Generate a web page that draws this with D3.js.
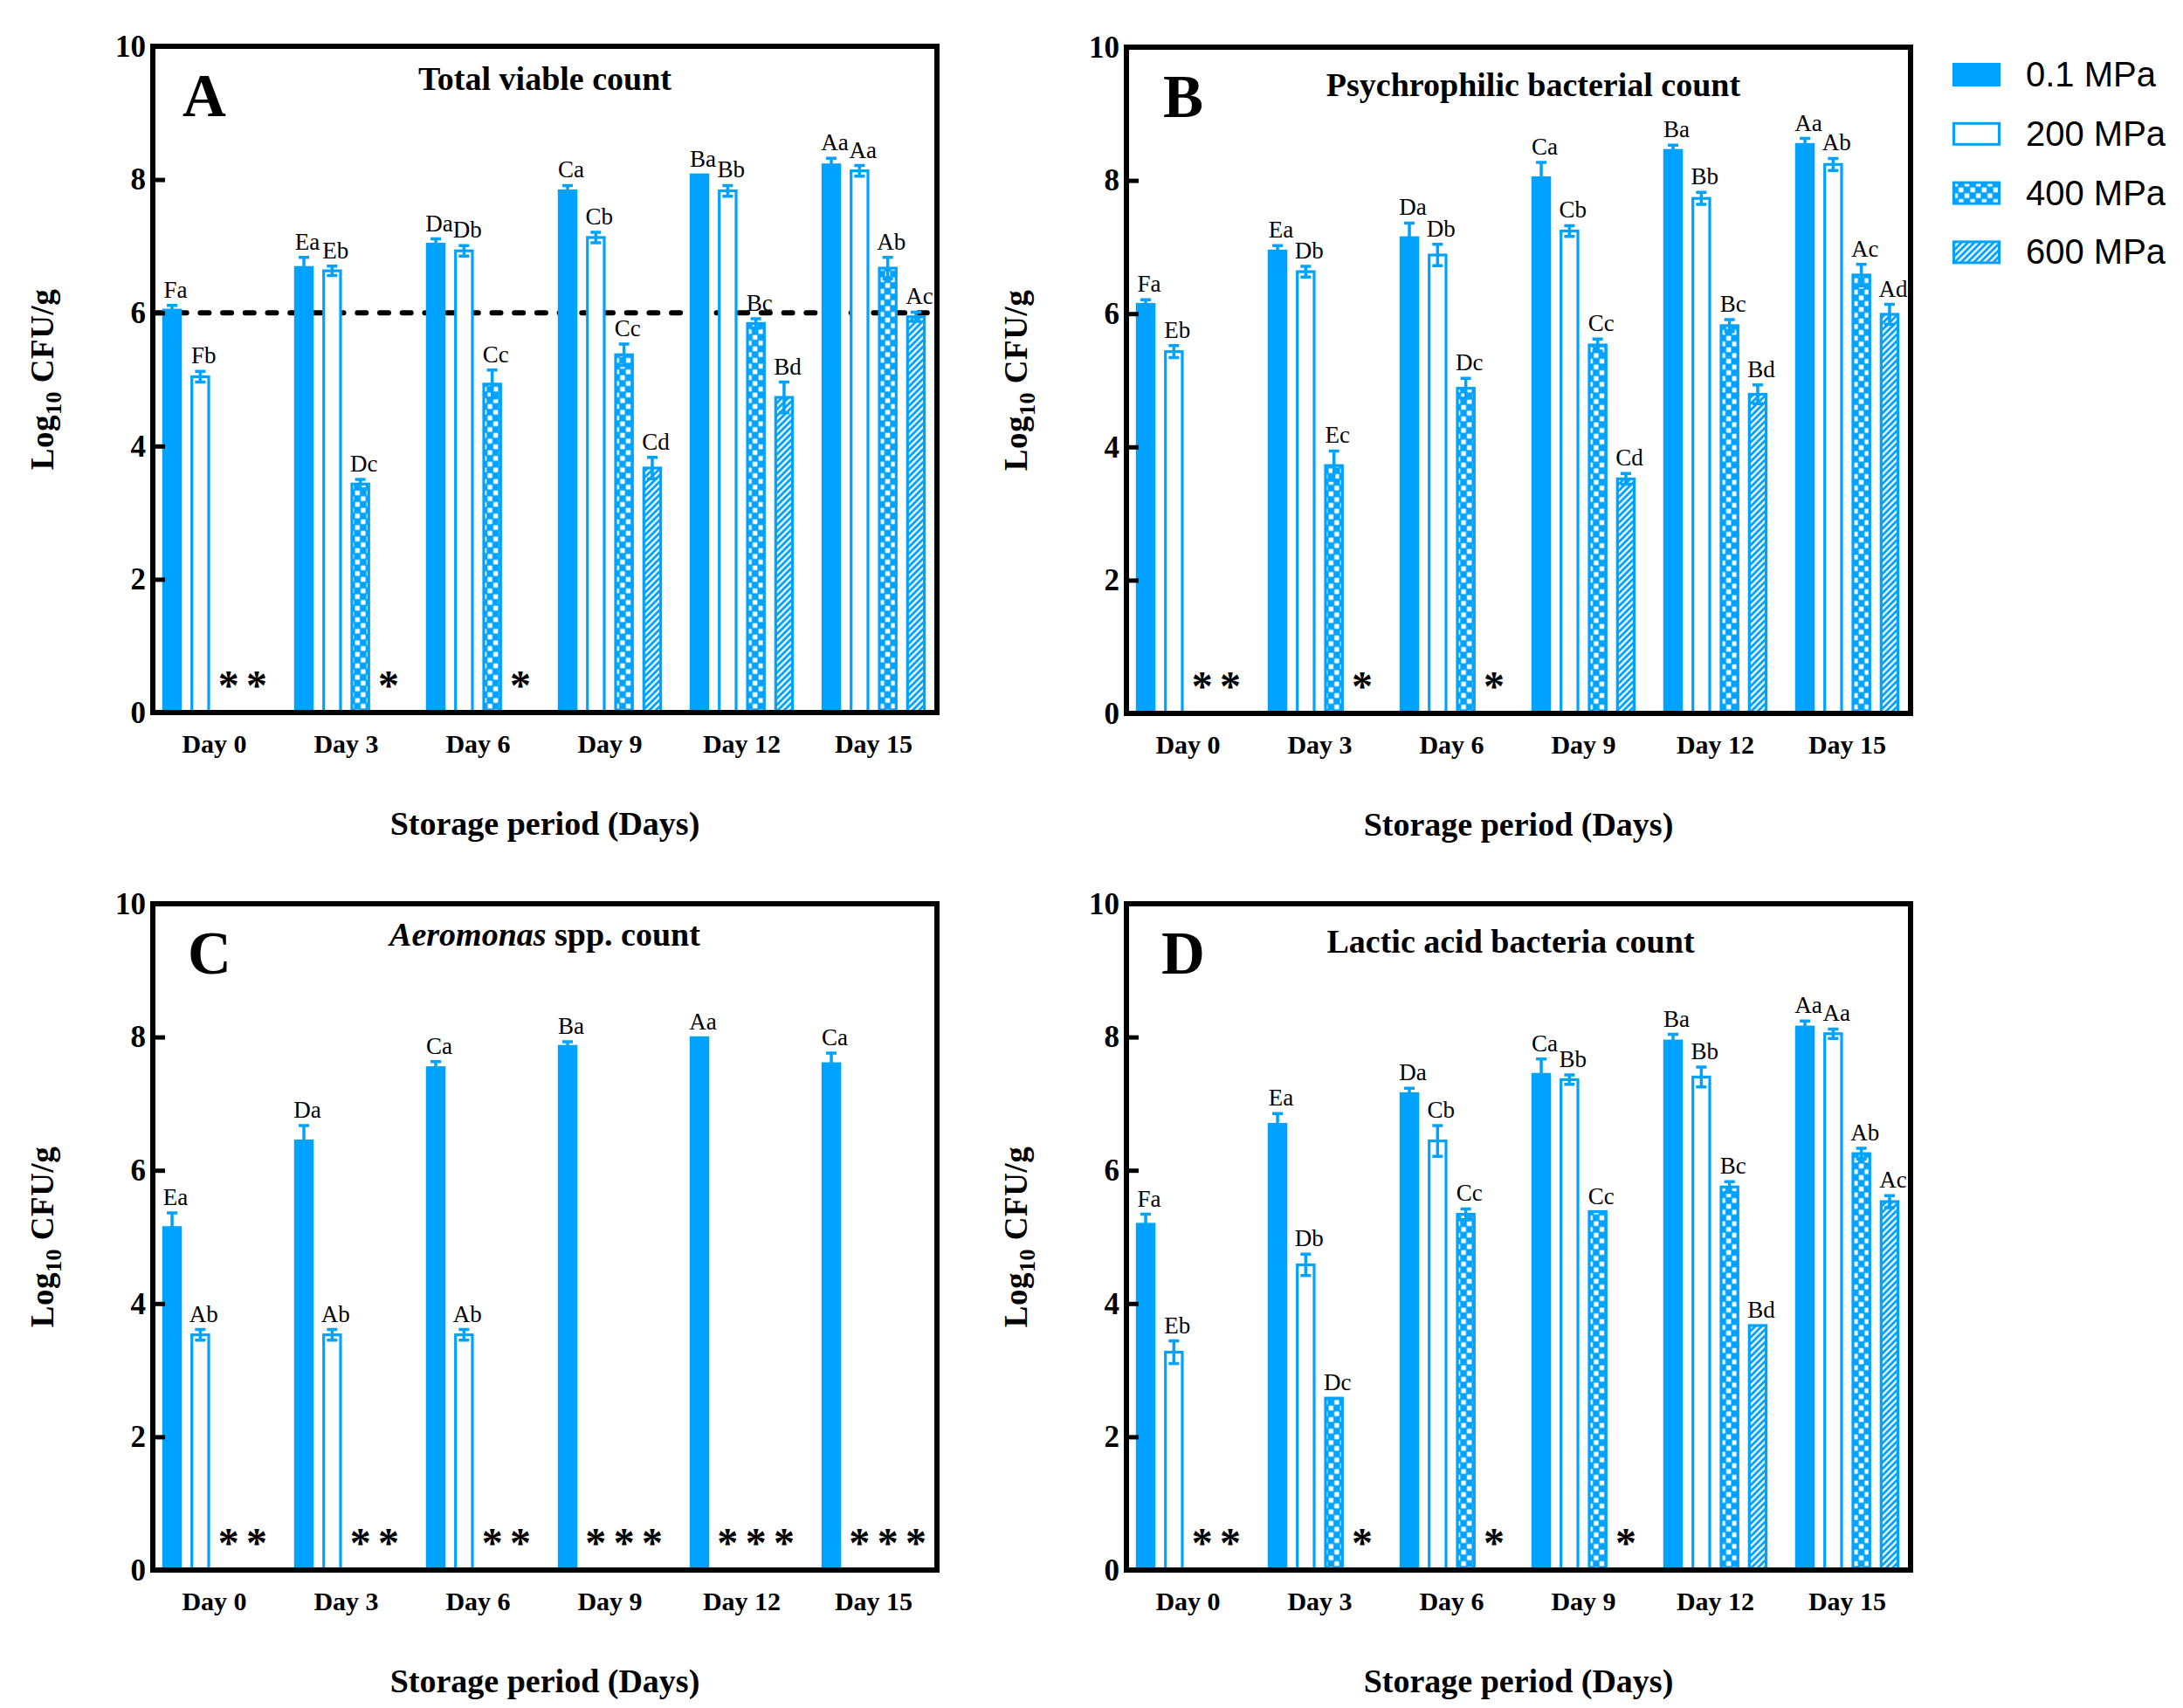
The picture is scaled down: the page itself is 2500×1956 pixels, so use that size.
<!DOCTYPE html>
<html>
<head>
<meta charset="utf-8">
<script src="https://cdn.jsdelivr.net/npm/d3@7"></script>
<style>
  body { margin: 0; background: #fff; }
  text { font-family: "Liberation Serif", "Times New Roman", serif; }
</style>
</head>
<body>
<div class="chart"></div>
<script>
const days = ["Day 0", "Day 3", "Day 6", "Day 9", "Day 12", "Day 15"]
const pressures = ["0.1 MPa", "200 MPa", "400 MPa", "600 MPa"]

// one row per pressure, one value per day; null = not detected (*)
const tvcMeans = [
  [6.04, 6.68, 7.03, 7.83, 8.07, 8.22],
  [5.04, 6.63, 6.93, 7.13, 7.83, 8.13],
  [null, 3.43, 4.93, 5.37, 5.84, 6.67],
  [null, null, null, 3.67, 4.73, 5.94]
]
const tvcErrors = [
  [0.07, 0.15, 0.08, 0.08, 0, 0.1],
  [0.08, 0.07, 0.08, 0.08, 0.08, 0.08],
  [0, 0.07, 0.21, 0.16, 0.07, 0.16],
  [0, 0, 0, 0.16, 0.23, 0.07]
]
const tvcLetters = [
  ["Fa", "Ea", "Da", "Ca", "Ba", "Aa"],
  ["Fb", "Eb", "Db", "Cb", "Bb", "Aa"],
  ["", "Dc", "Cc", "Cc", "Bc", "Ab"],
  ["", "", "", "Cd", "Bd", "Ac"]
]

const pbcMeans = [
  [6.14, 6.94, 7.14, 8.04, 8.45, 8.54],
  [5.43, 6.63, 6.88, 7.24, 7.73, 8.24],
  [null, 3.72, 4.88, 5.53, 5.82, 6.58],
  [null, null, null, 3.52, 4.79, 5.99]
]
const pbcErrors = [
  [0.07, 0.08, 0.22, 0.23, 0.08, 0.09],
  [0.09, 0.08, 0.16, 0.08, 0.09, 0.09],
  [0, 0.22, 0.15, 0.09, 0.09, 0.16],
  [0, 0, 0, 0.08, 0.14, 0.15]
]
const pbcLetters = [
  ["Fa", "Ea", "Da", "Ca", "Ba", "Aa"],
  ["Eb", "Db", "Db", "Cb", "Bb", "Ab"],
  ["", "Ec", "Dc", "Cc", "Bc", "Ac"],
  ["", "", "", "Cd", "Bd", "Ad"]
]

const aerMeans = [
  [5.14, 6.44, 7.54, 7.86, 7.99, 7.6],
  [3.53, 3.53, 3.53, null, null, null],
  [null, null, null, null, null, null],
  [null, null, null, null, null, null]
]
const aerErrors = [
  [0.22, 0.23, 0.09, 0.07, 0, 0.16],
  [0.08, 0.08, 0.08, 0, 0, 0],
  [0, 0, 0, 0, 0, 0],
  [0, 0, 0, 0, 0, 0]
]
const aerLetters = [
  ["Ea", "Da", "Ca", "Ba", "Aa", "Ca"],
  ["Ab", "Ab", "Ab", "", "", ""],
  ["", "", "", "", "", ""],
  ["", "", "", "", "", ""]
]

const labMeans = [
  [5.19, 6.69, 7.15, 7.44, 7.94, 8.15],
  [3.27, 4.58, 6.44, 7.36, 7.40, 8.05],
  [null, 2.58, 5.34, 5.38, 5.75, 6.25],
  [null, null, null, null, 3.67, 5.53]
]
const labErrors = [
  [0.15, 0.16, 0.08, 0.23, 0.1, 0.09],
  [0.17, 0.16, 0.23, 0.07, 0.15, 0.07],
  [0, 0, 0.08, 0, 0.08, 0.08],
  [0, 0, 0, 0, 0, 0.09]
]
const labLetters = [
  ["Fa", "Ea", "Da", "Ca", "Ba", "Aa"],
  ["Eb", "Db", "Cb", "Bb", "Bb", "Aa"],
  ["", "Dc", "Cc", "Cc", "Bc", "Ab"],
  ["", "", "", "", "Bd", "Ac"]
]

const yTicks = [0, 2, 4, 6, 8, 10]
const threshold = 6

const blue = "#00a2ff"
const W = 898, H = 763

const panels = [
  {letter: "A", title: "Total viable count", means: tvcMeans, errs: tvcErrors, labels: tvcLetters,
   x0: 175, y0: 53, titleDx: 0, titleDy: 50, letterDx: 34, line: threshold},
  {letter: "B", title: "Psychrophilic bacterial count", means: pbcMeans, errs: pbcErrors, labels: pbcLetters,
   x0: 1290, y0: 54, titleDx: 17, titleDy: 56, letterDx: 42},
  {letter: "C", italic: "Aeromonas", title: " spp. count", means: aerMeans, errs: aerErrors, labels: aerLetters,
   x0: 175, y0: 1035, titleDx: 0, titleDy: 48, letterDx: 40},
  {letter: "D", title: "Lactic acid bacteria count", means: labMeans, errs: labErrors, labels: labLetters,
   x0: 1290, y0: 1035, titleDx: -9, titleDy: 56, letterDx: 40}
]

const svg = d3.select(".chart")
  .append("svg")
  .attr("width", 2500)
  .attr("height", 1956)

const defs = svg.append("defs")

const checker = defs.append("pattern")
  .attr("id", "checker")
  .attr("patternUnits", "userSpaceOnUse")
  .attr("width", 13.2)
  .attr("height", 13.2)
checker.append("rect").attr("width", 13.2).attr("height", 13.2).attr("fill", blue)
checker.append("rect").attr("x", 0.6).attr("y", 0.6).attr("width", 5.4).attr("height", 5.4).attr("fill", "#fff")
checker.append("rect").attr("x", 7.2).attr("y", 7.2).attr("width", 5.4).attr("height", 5.4).attr("fill", "#fff")

const hatch = defs.append("pattern")
  .attr("id", "hatch")
  .attr("patternUnits", "userSpaceOnUse")
  .attr("width", 5.2)
  .attr("height", 5.2)
  .attr("patternTransform", "rotate(45)")
hatch.append("rect").attr("width", 5.2).attr("height", 5.2).attr("fill", blue)
hatch.append("rect").attr("width", 2.3).attr("height", 5.2).attr("fill", "#fff")

const fills = [blue, "#fff", "url(#checker)", "url(#hatch)"]

function drawPanel(p){
  const g = svg.append("g").attr("transform", `translate(${p.x0},${p.y0})`)

  const y = d3.scaleLinear().domain([0, 10]).range([H, 0])
  const x = d3.scalePoint().domain(days).range([70.5, W - 72.5])
  const sub = d3.scaleBand().domain(pressures).range([-59.6, 59.6]).paddingInner(0.31)
  const bw = sub.bandwidth()

  if (p.line !== undefined){
    g.append("line")
      .attr("x1", 3).attr("x2", W - 3)
      .attr("y1", y(p.line)).attr("y2", y(p.line))
      .attr("stroke", "#000")
      .attr("stroke-width", 6)
      .attr("stroke-linecap", "round")
      .attr("stroke-dasharray", "10,15.7")
  }

  const cells = []
  pressures.forEach((pr, j) => {
    days.forEach((d, i) => {
      cells.push({day: d, pr: pr, j: j, v: p.means[j][i], e: p.errs[j][i], lab: p.labels[j][i]})
    })
  })

  const present = cells.filter(c => c.v !== null)
  const missing = cells.filter(c => c.v === null)

  g.selectAll(".bar")
    .data(present)
    .enter()
    .append("rect")
    .attr("class", "bar")
    .attr("x", c => x(c.day) + sub(c.pr) + 1.5)
    .attr("width", bw - 3)
    .attr("y", c => y(c.v))
    .attr("height", c => H - y(c.v))
    .attr("fill", c => fills[c.j])
    .attr("stroke", blue)
    .attr("stroke-width", 3.2)

  const withErr = present.filter(c => c.e > 0)
  const cx = c => x(c.day) + sub(c.pr) + bw / 2

  g.selectAll(".err")
    .data(withErr)
    .enter()
    .append("path")
    .attr("class", "err")
    .attr("d", c => {
      const top = y(c.v + c.e), bot = y(c.v - c.e), m = cx(c)
      return `M${m},${bot}V${top}M${m - 6},${top}H${m + 6}M${m - 6},${bot}H${m + 6}`
    })
    .attr("fill", "none")
    .attr("stroke", blue)
    .attr("stroke-width", 3.5)

  g.selectAll(".lab")
    .data(present)
    .enter()
    .append("text")
    .attr("class", "lab")
    .attr("x", c => cx(c) + 4)
    .attr("y", c => y(c.v + c.e) - 9)
    .attr("text-anchor", "middle")
    .style("font-size", "27px")
    .text(c => c.lab)

  g.selectAll(".star")
    .data(missing)
    .enter()
    .append("text")
    .attr("class", "star")
    .attr("x", c => cx(c))
    .attr("y", H - 38 + 23)
    .attr("text-anchor", "middle")
    .style("font-size", "48px")
    .style("font-weight", "bold")
    .text("*")

  // frame
  g.append("rect")
    .attr("width", W)
    .attr("height", H)
    .attr("fill", "none")
    .attr("stroke", "#000")
    .attr("stroke-width", 6)

  const yAxis = d3.axisLeft(y)
    .tickValues(yTicks)
    .tickSizeInner(-14)
    .tickSizeOuter(0)
    .tickPadding(8)

  const ya = g.append("g").call(yAxis)
  ya.select(".domain").remove()
  ya.selectAll("line").attr("stroke", "#000").attr("stroke-width", 5)
  ya.selectAll("text")
    .style("font-family", "'Liberation Serif', 'Times New Roman', serif")
    .style("font-size", "35px")
    .style("font-weight", "bold")
    .attr("fill", "#000")

  g.selectAll(".day")
    .data(days)
    .enter()
    .append("text")
    .attr("class", "day")
    .attr("x", d => x(d))
    .attr("y", H + 46)
    .attr("text-anchor", "middle")
    .style("font-size", "30px")
    .style("font-weight", "bold")
    .text(d => d)

  g.append("text")
    .attr("x", W / 2)
    .attr("y", H + 140)
    .attr("text-anchor", "middle")
    .style("font-size", "38px")
    .style("font-weight", "bold")
    .text("Storage period (Days)")

  const yl = g.append("text")
    .attr("transform", `translate(-114,${H / 2}) rotate(-90)`)
    .attr("text-anchor", "middle")
    .style("font-size", "37px")
    .style("font-weight", "bold")
    .style("letter-spacing", "0.5px")
  yl.append("tspan").text("Log")
  yl.append("tspan").attr("dy", 9).style("font-size", "26px").text("10")
  yl.append("tspan").attr("dy", -9).text(" CFU/g")

  const t = g.append("text")
    .attr("x", W / 2 + p.titleDx)
    .attr("y", p.titleDy)
    .attr("text-anchor", "middle")
    .style("font-size", "38px")
    .style("font-weight", "bold")
  if (p.italic){
    t.append("tspan").style("font-style", "italic").text(p.italic)
  }
  t.append("tspan").text(p.title)

  g.append("text")
    .attr("x", p.letterDx)
    .attr("y", 80)
    .style("font-size", "69px")
    .style("font-weight", "bold")
    .text(p.letter)
}

panels.forEach(drawPanel)

// legend
const legend = svg.append("g").attr("transform", "translate(2236,72)")
const rows = legend.selectAll("g")
  .data(pressures)
  .enter()
  .append("g")
  .attr("transform", (d, i) => `translate(0,${i * 67.8})`)

rows.append("rect")
  .attr("x", 1.5).attr("y", 1.5)
  .attr("width", 52).attr("height", 24)
  .attr("fill", (d, i) => fills[i])
  .attr("stroke", blue)
  .attr("stroke-width", 3)

rows.append("text")
  .attr("x", 84)
  .attr("y", 27)
  .style("font-family", "'Liberation Sans', Arial, sans-serif")
  .style("font-size", "40px")
  .text(d => d)
</script>
</body>
</html>
